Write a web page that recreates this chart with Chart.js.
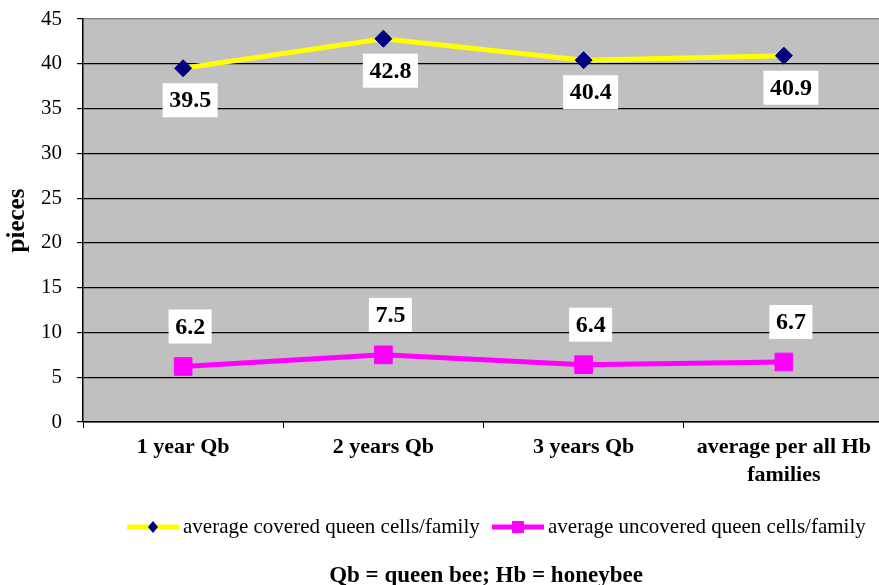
<!DOCTYPE html>
<html>
<head>
<meta charset="utf-8">
<script src="https://cdn.jsdelivr.net/npm/chart.js@4.4.0/dist/chart.umd.min.js"></script>
<style>
    html, body { margin: 0; padding: 0; background: #fff; overflow: hidden; }
    #wrap { width: 879px; height: 585px; overflow: hidden; }
</style>
</head>
<body>
<div id="wrap"><canvas id="myChart" width="884" height="585"></canvas></div>
<script>
var categories = ['1 year Qb', '2 years Qb', '3 years Qb', ['average per all Hb', 'families']];
var coveredCells = [39.5, 42.8, 40.4, 40.9];
var uncoveredCells = [6.2, 7.5, 6.4, 6.7];
var seriesNames = ['average covered queen cells/family', 'average uncovered queen cells/family'];
var yTicks = [0, 5, 10, 15, 20, 25, 30, 35, 40, 45];

var serif = '"Liberation Serif", "Times New Roman", serif';

// grey plot background
var plotBg = {
    id: 'plotBg',
    beforeDraw: function (chart) {
        var a = chart.chartArea;
        var ctx = chart.ctx;
        ctx.save();
        ctx.fillStyle = '#C0C0C0';
        ctx.fillRect(a.left, a.top, a.right - a.left, a.bottom - a.top);
        ctx.restore();
    }
};

// white boxed value labels, legend and the note at the bottom
var extras = {
    id: 'extras',
    afterDatasetsDraw: function (chart) {
        var ctx = chart.ctx;
        ctx.save();
        ctx.font = 'bold 24px ' + serif;
        ctx.textAlign = 'center';
        ctx.textBaseline = 'middle';
        chart.data.datasets.forEach(function (ds, i) {
            var meta = chart.getDatasetMeta(i);
            var dy = i === 0 ? 32 : -40;
            meta.data.forEach(function (pt, j) {
                var txt = ds.data[j].toFixed(1);
                var x = pt.x + 7, y = pt.y + dy;
                var w = ctx.measureText(txt).width + 13;
                ctx.fillStyle = '#fff';
                ctx.fillRect(x - w / 2, y - 17, w, 34);
                ctx.fillStyle = '#000';
                ctx.fillText(txt, x, y + 1);
            });
        });
        ctx.restore();
    },
    afterDraw: function (chart) {
        var ctx = chart.ctx;
        ctx.save();
        // legend
        ctx.font = '21px ' + serif;
        ctx.textBaseline = 'middle';
        ctx.textAlign = 'left';
        var ly = 527;
        var items = [
            { x: 127, color: '#FFFF00', mark: 'diamond', text: seriesNames[0] },
            { x: 492, color: '#FF00FF', mark: 'square', text: seriesNames[1] }
        ];
        items.forEach(function (it) {
            ctx.strokeStyle = it.color;
            ctx.lineWidth = 5;
            ctx.beginPath();
            ctx.moveTo(it.x, ly);
            ctx.lineTo(it.x + 52, ly);
            ctx.stroke();
            var cx = it.x + 26;
            if (it.mark === 'diamond') {
                ctx.fillStyle = '#000080';
                ctx.beginPath();
                ctx.moveTo(cx, ly - 6);
                ctx.lineTo(cx + 5, ly);
                ctx.lineTo(cx, ly + 6);
                ctx.lineTo(cx - 5, ly);
                ctx.closePath();
                ctx.fill();
            } else {
                ctx.fillStyle = '#FF00FF';
                ctx.fillRect(cx - 6, ly - 6, 12, 12);
            }
            ctx.fillStyle = '#000';
            ctx.fillText(it.text, it.x + 56, ly);
        });
        // note
        ctx.font = 'bold 23px ' + serif;
        ctx.textAlign = 'center';
        ctx.fillText('Qb = queen bee; Hb = honeybee', 486, 576);
        ctx.restore();
    }
};

new Chart('myChart', {
    type: 'line',
    data: {
        labels: categories,
        datasets: [{
            label: seriesNames[0],
            data: coveredCells,
            borderColor: '#FFFF00',
            borderWidth: 5,
            pointStyle: 'rectRot',
            pointRadius: 8.5,
            pointHoverRadius: 8.5,
            pointBackgroundColor: '#000080',
            pointBorderColor: '#000080',
            pointBorderWidth: 1,
            tension: 0,
            fill: false
        }, {
            label: seriesNames[1],
            data: uncoveredCells,
            borderColor: '#FF00FF',
            borderWidth: 5,
            pointStyle: 'rect',
            pointRadius: 12.5,
            pointHoverRadius: 12.5,
            pointBackgroundColor: '#FF00FF',
            pointBorderColor: '#FF00FF',
            pointBorderWidth: 1,
            tension: 0,
            fill: false
        }]
    },
    options: {
        responsive: false,
        animation: false,
        devicePixelRatio: 1,
        layout: { autoPadding: false, padding: { top: 19, right: 0, left: 0, bottom: 0 } },
        plugins: {
            legend: { display: false },
            title: { display: false },
            tooltip: { enabled: false }
        },
        scales: {
            x: {
                offset: true,
                afterFit: function (s) {
                    s.height = 163;
                    s.paddingLeft = 0;
                    s.paddingRight = 0;
                },
                grid: {
                    display: true,
                    drawOnChartArea: false,
                    drawTicks: true,
                    tickLength: 6,
                    color: '#000',
                    tickColor: '#000',
                    offset: true
                },
                border: { display: true, color: '#000', width: 1.5 },
                ticks: {
                    autoSkip: false,
                    maxRotation: 0,
                    minRotation: 0,
                    padding: 6,
                    color: '#000',
                    font: { family: serif, size: 22, weight: 'bold', lineHeight: 1.25 }
                }
            },
            y: {
                min: 0,
                max: 45,
                afterFit: function (s) {
                    s.width = 83;
                    s.paddingTop = 0;
                    s.paddingBottom = 0;
                },
                afterBuildTicks: function (s) {
                    s.ticks = yTicks.map(function (v) { return { value: v }; });
                },
                grid: {
                    color: function (c) { return c.tick && c.tick.value === 45 ? '#808080' : '#000'; },
                    tickColor: '#000',
                    tickLength: 6,
                    lineWidth: 1.2
                },
                border: { display: true, color: '#000', width: 1.5 },
                ticks: {
                    padding: 15,
                    color: '#000',
                    font: { family: serif, size: 21 }
                },
                title: {
                    display: true,
                    text: 'pieces',
                    color: '#000',
                    padding: { top: 3, bottom: 0 },
                    font: { family: serif, size: 25, weight: 'bold' }
                }
            }
        }
    },
    plugins: [plotBg, extras]
});
</script>
</body>
</html>
